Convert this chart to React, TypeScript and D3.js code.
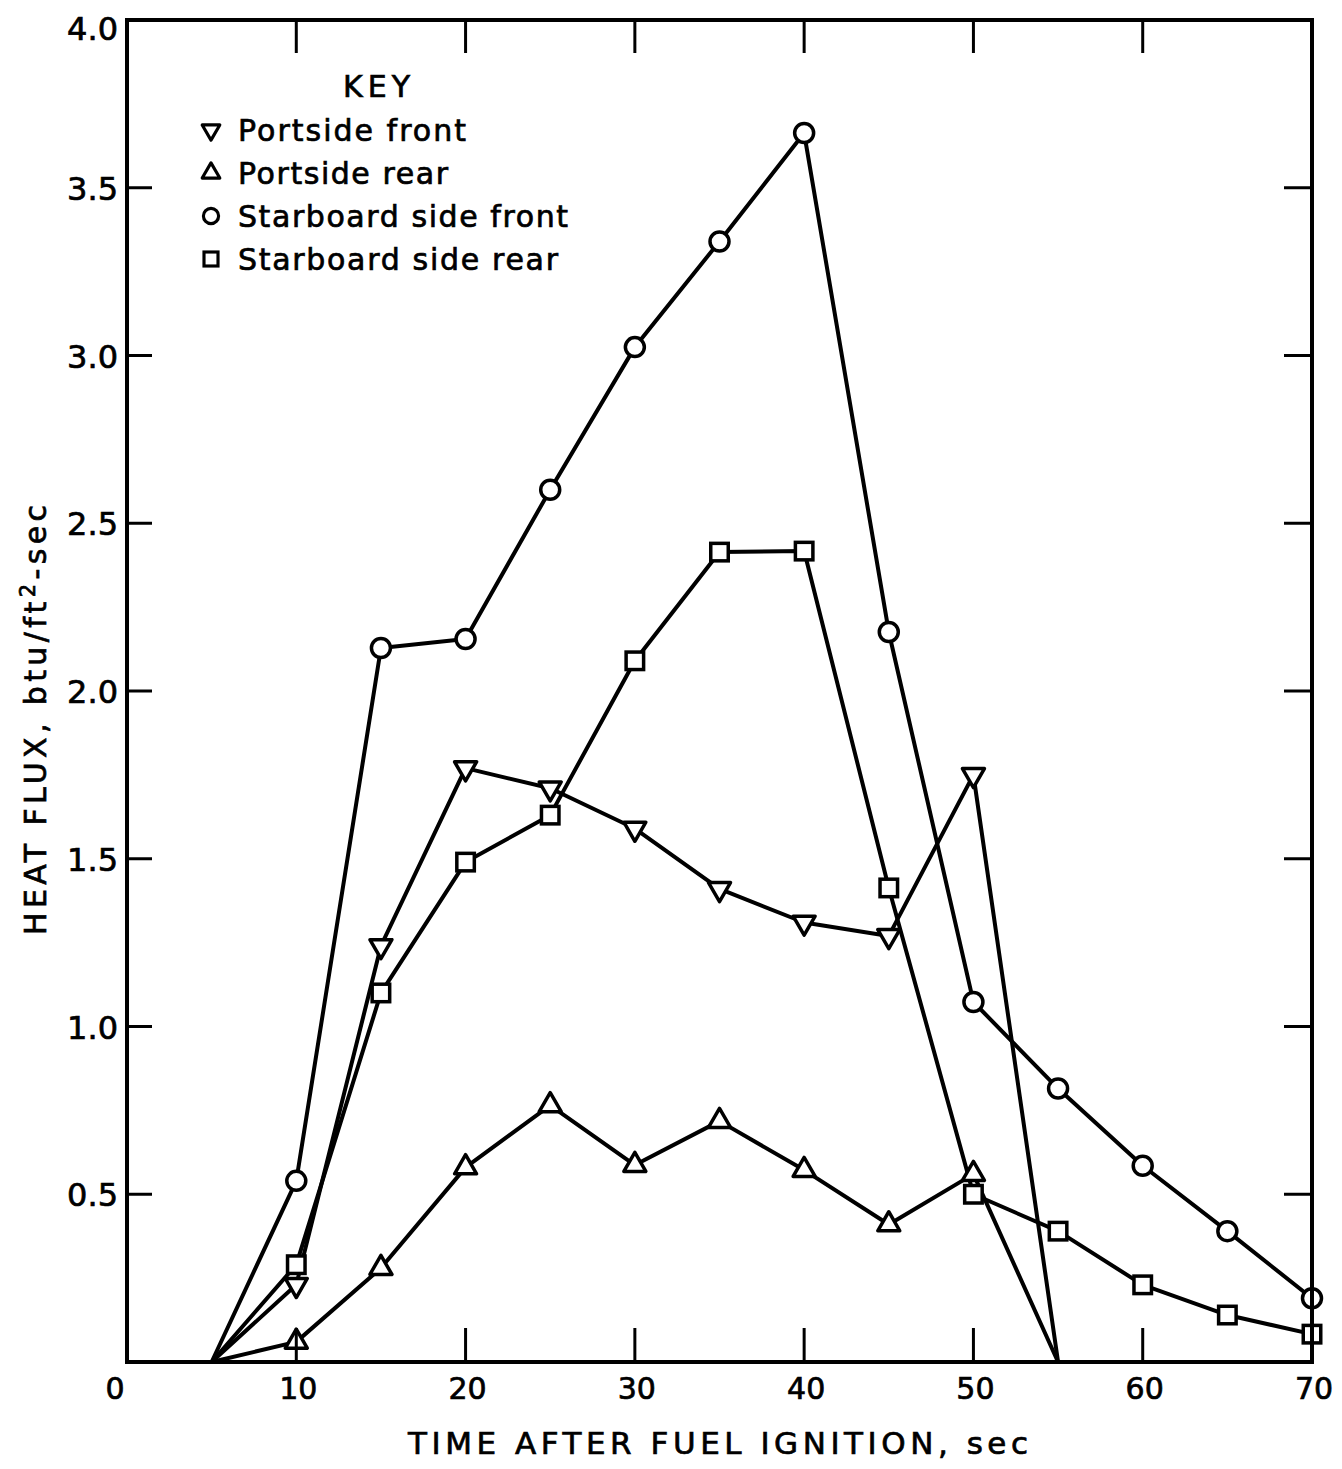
import React from "react";
import * as d3 from "d3";

const times = [5, 10, 15, 20, 25, 30, 35, 40, 45, 50, 55, 60, 65, 70];
const portsideFrontTimes = [5, 10, 15, 20, 25, 30, 35, 40, 45, 50, 55];
const portsideFront = [0, 0.23, 1.24, 1.77, 1.71, 1.59, 1.41, 1.31, 1.27, 1.75, 0];
const portsideRearTimes = [5, 10, 15, 20, 25, 30, 35, 40, 45, 50, 55];
const portsideRear = [0, 0.06, 0.28, 0.58, 0.765, 0.587, 0.718, 0.572, 0.41, 0.56, 0];
const starboardFront = [0, 0.54, 2.128, 2.155, 2.6, 3.025, 3.34, 3.663, 2.176, 1.073, 0.815, 0.585, 0.39, 0.19];
const starboardRear = [0, 0.29, 1.1, 1.49, 1.63, 2.09, 2.414, 2.417, 1.413, 0.5, 0.39, 0.23, 0.14, 0.083];

const xTicks = [0, 10, 20, 30, 40, 50, 60, 70];
const yTicks = [0.5, 1.0, 1.5, 2.0, 2.5, 3.0, 3.5, 4.0];
const keyLabels = ["Portside front", "Portside rear", "Starboard side front", "Starboard side rear"];
const keyShapes = ["down", "up", "circle", "square"];

const W = 1342;
const H = 1469;
const left = 127;
const right = 1312;
const top = 20;
const bottom = 1362;
const FONT = "'DejaVu Sans', 'Liberation Sans', sans-serif";

function Marker({ shape, x, y, s = 1 }: { shape: string; x: number; y: number; s?: number }) {
  const common = { fill: "#fff", stroke: "#000", strokeWidth: 3.5 * Math.min(1, s + 0.1) };
  if (shape === "circle") return <circle cx={x} cy={y} r={9.5 * s} {...common} />;
  if (shape === "square") {
    const a = 17.5 * s;
    return <rect x={x - a / 2} y={y - a / 2} width={a} height={a} {...common} />;
  }
  const side = 22 * s;
  const h = (side * Math.sqrt(3)) / 2;
  const dir = shape === "up" ? 1 : -1;
  const p = `M${x},${y - (dir * (2 * h)) / 3} L${x + side / 2},${y + (dir * h) / 3} L${x - side / 2},${y + (dir * h) / 3} Z`;
  return <path d={p} {...common} strokeLinejoin="round" />;
}

export default function App() {
  const x = d3.scaleLinear().domain([0, 70]).range([left, right]);
  const y = d3.scaleLinear().domain([0, 4]).range([bottom, top]);
  const line = d3
    .line<[number, number]>()
    .x((d) => x(d[0]))
    .y((d) => y(d[1]));

  const series = [
    { shape: "circle", pts: times.map((t, i) => [t, starboardFront[i]] as [number, number]) },
    { shape: "square", pts: times.map((t, i) => [t, starboardRear[i]] as [number, number]) },
    { shape: "up", pts: portsideRearTimes.map((t, i) => [t, portsideRear[i]] as [number, number]) },
    { shape: "down", pts: portsideFrontTimes.map((t, i) => [t, portsideFront[i]] as [number, number]) },
  ];

  const keyY = [130, 173, 216, 259];
  const keyWidths = [228, 210, 330, 320];
  const textStroke = { stroke: "#000", strokeWidth: 0.7 };

  return (
    <svg
      width={W}
      height={H}
      style={{ position: "absolute", left: 0, top: 0, background: "#fff" }}
      fontFamily={FONT}
    >
      <rect x={0} y={0} width={W} height={H} fill="#fff" />
      {series.map((s, i) => (
        <path key={"l" + i} d={line(s.pts) || ""} fill="none" stroke="#000" strokeWidth={4} strokeLinejoin="round" />
      ))}
      {series.map((s, i) =>
        s.pts
          .filter((p) => p[1] > 0)
          .map((p, j) => <Marker key={`m${i}-${j}`} shape={s.shape} x={x(p[0])} y={y(p[1])} />)
      )}
      <rect x={left} y={top} width={right - left} height={bottom - top} fill="none" stroke="#000" strokeWidth={4} />
      {yTicks.filter((t) => t < 4).map((t) => (
        <g key={"yt" + t}>
          <line x1={left} x2={left + 25} y1={y(t)} y2={y(t)} stroke="#000" strokeWidth={3} />
          <line x1={right} x2={right - 28} y1={y(t)} y2={y(t)} stroke="#000" strokeWidth={3} />
        </g>
      ))}
      {yTicks.map((t) => (
        <text key={"yl" + t} x={118} y={Math.max(y(t) + 12, 40)} textAnchor="end" fontSize={32} {...textStroke}>
          {t.toFixed(1)}
        </text>
      ))}
      {xTicks.filter((t) => t > 0 && t < 70).map((t) => (
        <g key={"xt" + t}>
          <line x1={x(t)} x2={x(t)} y1={bottom} y2={bottom - 34} stroke="#000" strokeWidth={3} />
          <line x1={x(t)} x2={x(t)} y1={top} y2={top + 33} stroke="#000" strokeWidth={3} />
        </g>
      ))}
      {xTicks.map((t) => (
        <text key={"xl" + t} x={t === 0 ? x(t) - 12 : x(t) + 2} y={1399} textAnchor="middle" fontSize={30} {...textStroke}>
          {t}
        </text>
      ))}
      <text x={408} y={1454} fontSize={31} textLength={620} lengthAdjust="spacing" {...textStroke}>
        TIME AFTER FUEL IGNITION, sec
      </text>
      <text transform="translate(46,935) rotate(-90)" fontSize={30} textLength={430} lengthAdjust="spacing" {...textStroke}>
        HEAT FLUX, btu/ft
        <tspan dy={-11} fontSize={21}>2</tspan>
        <tspan dy={11}>-sec</tspan>
      </text>
      <text x={343} y={97} fontSize={30} textLength={67} lengthAdjust="spacing" {...textStroke}>
        KEY
      </text>
      {keyLabels.map((lab, i) => (
        <g key={"k" + i}>
          <Marker shape={keyShapes[i]} x={211} y={keyY[i]} s={0.8} />
          <text x={238} y={keyY[i] + 11} fontSize={30} textLength={keyWidths[i]} lengthAdjust="spacing" {...textStroke}>
            {lab}
          </text>
        </g>
      ))}
    </svg>
  );
}
